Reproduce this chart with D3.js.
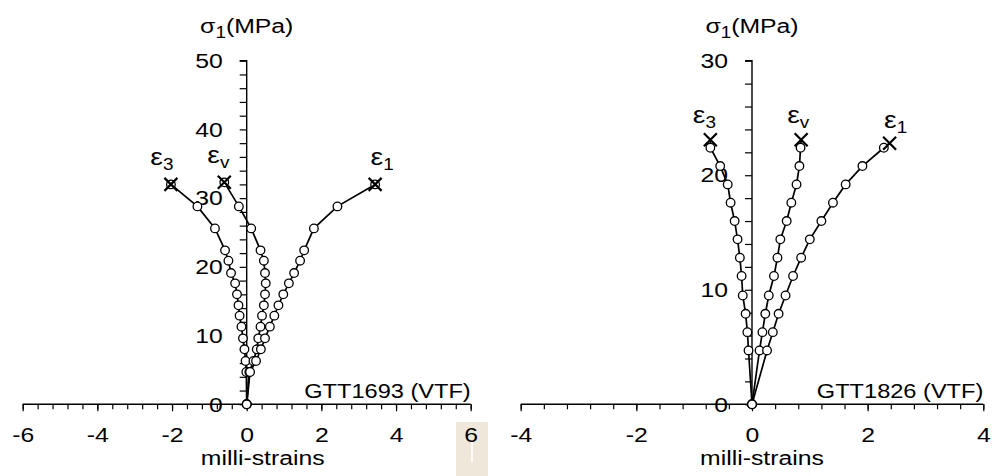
<!DOCTYPE html>
<html>
<head>
<meta charset="utf-8">
<script src="https://cdn.jsdelivr.net/npm/d3@7"></script>
<style>
  body { margin: 0; background: #fff; }
  svg { display: block; font-family: "Liberation Sans", Arial, sans-serif; }
</style>
</head>
<body>
<div id="chart"></div>
<script>
// ---- data ----
// left panel: GTT1693 (VTF)
var stressA = [0, 4.7, 6.3, 8.0, 9.6, 11.3, 12.9, 14.4, 16.0, 17.6, 19.1, 20.9, 22.4, 25.6, 28.8, 32.0];
var eps3A   = [0, -0.01, -0.03, -0.06, -0.10, -0.14, -0.19, -0.22, -0.26, -0.31, -0.42, -0.49, -0.58, -0.85, -1.32, -2.03];
var epsvA   = [0, 0.07, 0.18, 0.27, 0.31, 0.37, 0.41, 0.46, 0.49, 0.51, 0.49, 0.46, 0.37, 0.12, -0.21, -0.60];
var eps1A   = [0, 0.09, 0.25, 0.38, 0.49, 0.62, 0.74, 0.85, 0.98, 1.13, 1.27, 1.43, 1.54, 1.80, 2.43, 3.44];
var peakStressA = [32.0, 32.3, 32.0];   // eps3, epsv, eps1 failure points
// right panel: GTT1826 (VTF)
var stressB = [0, 4.7, 6.3, 7.9, 9.5, 11.2, 12.8, 14.4, 16.0, 17.6, 19.2, 20.8, 22.4];
var eps3B   = [0, -0.06, -0.08, -0.11, -0.16, -0.18, -0.21, -0.25, -0.30, -0.37, -0.42, -0.55, -0.72];
var epsvB   = [0, 0.13, 0.18, 0.23, 0.29, 0.38, 0.44, 0.49, 0.60, 0.68, 0.77, 0.82, 0.84];
var eps1B   = [0, 0.26, 0.36, 0.46, 0.58, 0.71, 0.85, 1.00, 1.20, 1.40, 1.62, 1.91, 2.28];
var peakStressB = [23.1, 23.1, 22.8];
var peakStrainB = [-0.72, 0.85, 2.38];

var width = 995, height = 476;
var stretchX = 1.18;   // text in the picture is a bit wider than plain Arial
var ink = "#000";

var svg = d3.select("#chart").append("svg")
    .attr("width", width)
    .attr("height", height);

// move x/y into a transform so the text can be widened around its anchor
function stretch(sel) {
  sel.each(function() {
    var t = d3.select(this);
    var xx = +t.attr("x") || 0, yy = +t.attr("y") || 0;
    t.attr("x", 0).attr("y", 0)
      .attr("transform", "translate(" + xx + "," + yy + ") scale(" + stretchX + ",1)");
  });
}

// beige patch behind the last "6" in the picture
svg.append("rect")
    .attr("x", 456).attr("y", 422).attr("width", 32).attr("height", 54)
    .attr("fill", "#efe8da");
svg.append("line")
    .attr("x1", 472).attr("x2", 472).attr("y1", 440).attr("y2", 462)
    .attr("stroke", "#fff").attr("stroke-width", 2).attr("opacity", 0.8);

function drawPanel(opt) {
  var x = d3.scaleLinear().domain(opt.xDomain).range(opt.xRange);
  var y = d3.scaleLinear().domain(opt.yDomain).range([404.3, 60.7]);
  var g = svg.append("g");
  var fmt = function(d) { return String(d); };

  // x axis: major ticks every 2, minor every 0.4
  var minorX = d3.range(opt.xDomain[0], opt.xDomain[1] + 0.001, 0.4);
  g.append("g")
    .attr("transform", "translate(0," + y(0) + ")")
    .call(d3.axisBottom(x).tickValues(minorX).tickSize(5).tickFormat(""))
    .call(function(a) {
      a.select(".domain").attr("stroke-width", 1.4).attr("d", "M" + opt.xRange[0] + ",0H" + opt.xRange[1]);
      a.selectAll(".tick line").attr("stroke-width", 1.2);
    });
  g.append("g")
    .attr("transform", "translate(0," + y(0) + ")")
    .call(d3.axisBottom(x).tickValues(opt.xTicks).tickSize(7).tickPadding(16).tickFormat(fmt))
    .call(function(a) {
      a.select(".domain").remove();
      a.selectAll(".tick line").attr("stroke-width", 1.2);
      a.selectAll("text").attr("font-size", 21).attr("fill", ink)
        .attr("font-family", "'Liberation Sans', Arial, sans-serif")
        .call(stretch);
    });

  // y axis: major every 10, minor every 2
  var minorY = d3.range(opt.yDomain[0], opt.yDomain[1] + 0.001, 2);
  g.append("g")
    .attr("transform", "translate(" + x(0) + ",0)")
    .call(d3.axisLeft(y).tickValues(minorY).tickSize(7).tickFormat(""))
    .call(function(a) {
      a.select(".domain").attr("stroke-width", 1.4).attr("d", "M-7," + y(opt.yDomain[1]) + "H0V" + y(0));
      a.selectAll(".tick line").attr("stroke-width", 1.2);
    });
  g.append("g")
    .attr("transform", "translate(" + x(0) + ",0)")
    .call(d3.axisLeft(y).tickValues(opt.yTicks).tickSize(0).tickPadding(24).tickFormat(fmt))
    .call(function(a) {
      a.select(".domain").remove();
      a.selectAll("text").attr("font-size", 21).attr("fill", ink)
        .attr("font-family", "'Liberation Sans', Arial, sans-serif")
        .call(stretch);
    });

  // axis titles
  var yt = g.append("text")
    .attr("x", x(0)).attr("y", 33)
    .attr("text-anchor", "middle").attr("font-size", 21).attr("fill", ink);
  yt.append("tspan").text("σ");
  yt.append("tspan").attr("font-size", 16).attr("dy", 5).text("1");
  yt.append("tspan").attr("dy", -5).text("(MPa)");
  yt.call(stretch);

  g.append("text")
    .attr("x", x(0) + opt.xTitleDx).attr("y", 465)
    .attr("text-anchor", "middle").attr("font-size", 21).attr("fill", ink)
    .text("milli-strains")
    .call(stretch);

  g.append("text")
    .attr("x", opt.xRange[1]).attr("y", 398)
    .attr("text-anchor", "end").attr("font-size", 20).attr("fill", ink)
    .text(opt.name)
    .call(stretch);

  var line = d3.line()
    .x(function(d) { return x(d[0]); })
    .y(function(d) { return y(d[1]); });

  opt.curves.forEach(function(c, i) {
    var pts = c.strain.map(function(v, j) { return [v, opt.stress[j]]; });
    var peak = [opt.peakStrain[i], opt.peakStress[i]];
    var all = pts.concat([peak]);

    g.append("path")
      .datum(all)
      .attr("d", line)
      .attr("fill", "none")
      .attr("stroke", ink)
      .attr("stroke-width", 1.7);

    var circ = opt.peakCircle ? all : pts;
    g.selectAll(null)
      .data(circ.slice(1).concat([circ[0]]))
      .enter().append("circle")
      .attr("cx", function(d) { return x(d[0]); })
      .attr("cy", function(d) { return y(d[1]); })
      .attr("r", 4.3)
      .attr("fill", "#fff")
      .attr("stroke", ink)
      .attr("stroke-width", 1.3);

    var px = x(peak[0]), py = y(peak[1]), s = 6.5;
    g.append("path")
      .attr("d", "M" + (px - s) + "," + (py - s) + "L" + (px + s) + "," + (py + s) +
                 "M" + (px - s) + "," + (py + s) + "L" + (px + s) + "," + (py - s))
      .attr("stroke", ink)
      .attr("stroke-width", 2.2)
      .attr("fill", "none");

    var lab = g.append("text")
      .attr("x", px + c.labDx).attr("y", py + c.labDy)
      .attr("text-anchor", "middle").attr("font-size", 24).attr("fill", ink);
    lab.append("tspan").text("ε");
    lab.append("tspan").attr("font-size", 16).attr("dy", 5).text(c.sub);
    lab.call(stretch);
  });
}

drawPanel({
  name: "GTT1693 (VTF)",
  xDomain: [-6, 6], xRange: [22.7, 470.7], xTicks: [-6, -4, -2, 0, 2, 4, 6],
  yDomain: [0, 50], yTicks: [0, 10, 20, 30, 40, 50],
  xTitleDx: 16,
  stress: stressA,
  peakStress: peakStressA,
  peakStrain: [eps3A[eps3A.length - 1], epsvA[epsvA.length - 1], eps1A[eps1A.length - 1]],
  peakCircle: true,
  curves: [
    { strain: eps3A.slice(0, -1), sub: "3", labDx: -9, labDy: -19 },
    { strain: epsvA.slice(0, -1), sub: "v", labDx: -6, labDy: -19 },
    { strain: eps1A.slice(0, -1), sub: "1", labDx: 7, labDy: -19 }
  ]
});

drawPanel({
  name: "GTT1826 (VTF)",
  xDomain: [-4, 4], xRange: [520.7, 983.3], xTicks: [-4, -2, 0, 2, 4],
  yDomain: [0, 30], yTicks: [0, 10, 20, 30],
  xTitleDx: 10,
  stress: stressB,
  peakStress: peakStressB,
  peakStrain: peakStrainB,
  peakCircle: false,
  curves: [
    { strain: eps3B, sub: "3", labDx: -6, labDy: -17 },
    { strain: epsvB, sub: "v", labDx: -3, labDy: -17 },
    { strain: eps1B, sub: "1", labDx: 6, labDy: -15 }
  ]
});
</script>
</body>
</html>
